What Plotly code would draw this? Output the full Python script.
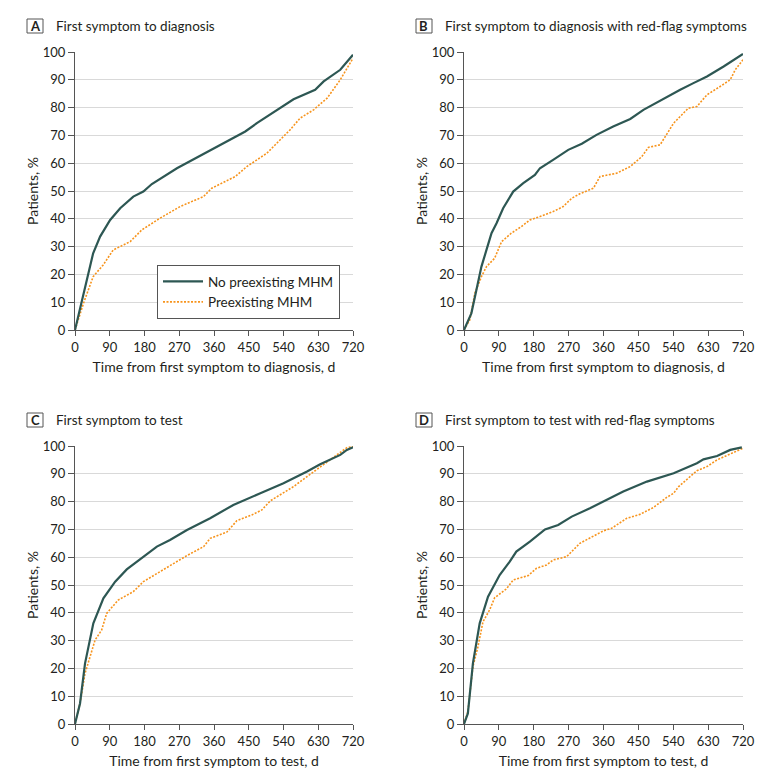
import plotly.graph_objects as go

# ---------------- data ----------------
a_no_x = [0, 35, 47, 65, 91, 117, 151, 177, 199, 264, 359, 441, 471, 532, 566, 622, 644, 687, 720]
a_no_y = [0, 20.4, 27.6, 33.6, 39.6, 43.8, 48, 49.8, 52.5, 58.2, 65.4, 71.4, 74.4, 79.8, 83, 86.4, 89.4, 93.6, 99]
a_pre_x = [0, 22, 47, 73, 99, 117, 143, 173, 220, 272, 333, 354, 415, 445, 497, 557, 583, 618, 653, 687, 720]
a_pre_y = [0, 9.6, 19.2, 23.4, 28.8, 30, 31.8, 36, 40.2, 44.4, 48, 51, 55.2, 58.8, 63.6, 72, 76.2, 79.2, 83.4, 90, 97.8]

b_no_x = [0, 10, 19, 32, 45, 58, 71, 84, 101, 127, 153, 183, 196, 230, 269, 304, 342, 385, 429, 463, 515, 558, 592, 627, 670, 696, 720]
b_no_y = [0, 3, 6, 14.4, 22.8, 28.8, 34.8, 38.4, 43.8, 49.8, 52.8, 55.8, 58.2, 61.2, 64.8, 67, 70.2, 73.2, 75.9, 79.2, 83.2, 86.4, 88.8, 91.2, 94.8, 97, 99.3]
b_pre_x = [0, 15, 28, 45, 58, 79, 97, 122, 148, 170, 196, 230, 256, 278, 299, 334, 351, 394, 429, 459, 476, 506, 541, 579, 601, 627, 661, 687, 700, 720]
b_pre_y = [0, 3.6, 13.2, 19.2, 22.8, 25.8, 31.8, 34.8, 37.2, 39.6, 40.8, 42.6, 44.4, 47.4, 49, 51, 55.2, 56.4, 58.8, 62.4, 65.7, 66.6, 74.4, 79.8, 80.4, 84.6, 87.6, 90, 93.6, 97.2]

c_no_x = [0, 13, 26, 47.5, 73.5, 104, 134, 177, 212, 246, 290, 350, 410, 480, 540, 601, 635, 687, 704, 720]
c_no_y = [0, 7.4, 21.8, 36.2, 45.2, 51.2, 55.6, 60.2, 63.8, 66.2, 69.8, 74, 78.8, 83, 86.6, 90.8, 93.4, 96.8, 98.6, 99.5]
c_pre_x = [0, 13, 26, 52, 69, 82, 112, 151, 177, 220, 255, 290, 333, 350, 393, 419, 458, 484, 506, 566, 601, 644, 678, 704, 720]
c_pre_y = [0, 7.4, 18.2, 30.2, 33.8, 39.8, 44.6, 47.6, 51.2, 54.8, 57.6, 60.6, 63.8, 66.8, 69, 73.1, 75.2, 77, 80.3, 85.4, 89, 93.2, 96.8, 99.4, 99.8]

d_no_x = [0, 10, 23, 40.5, 62, 92, 118, 135, 170, 209, 243, 278, 325, 368, 411, 472, 541, 601, 618, 653, 687, 717]
d_no_y = [0, 3.8, 21.8, 36.2, 45.8, 53.6, 58.4, 62, 65.6, 70, 71.6, 74.6, 77.6, 80.6, 83.6, 87.2, 90.2, 93.8, 95.2, 96.4, 98.6, 99.5]
d_pre_x = [0, 10, 23, 36, 49, 66, 79, 109.5, 127, 166, 187, 213, 230, 265, 299, 342, 360, 381, 420, 454, 489, 523, 541, 554, 579, 601, 627, 653, 720]
d_pre_y = [0, 4.4, 20.6, 27.8, 36.8, 41, 45.4, 48.6, 51.8, 53.4, 56, 57.2, 59, 60.2, 65, 68, 69.5, 70.4, 74, 75.4, 77.9, 81.5, 83, 85.4, 88.4, 91.1, 92.6, 95, 99.2]

panel_letters = ["A", "B", "C", "D"]
panel_titles = ["First symptom to diagnosis",
                "First symptom to diagnosis with red-flag symptoms",
                "First symptom to test",
                "First symptom to test with red-flag symptoms"]
x_titles = ["Time from first symptom to diagnosis, d",
            "Time from first symptom to diagnosis, d",
            "Time from first symptom to test, d",
            "Time from first symptom to test, d"]
series_names = ["No preexisting MHM", "Preexisting MHM"]
x_ticks = [0, 90, 180, 270, 360, 450, 540, 630, 720]
y_ticks = [0, 10, 20, 30, 40, 50, 60, 70, 80, 90, 100]

panels = [(a_no_x, a_no_y, a_pre_x, a_pre_y),
          (b_no_x, b_no_y, b_pre_x, b_pre_y),
          (c_no_x, c_no_y, c_pre_x, c_pre_y),
          (d_no_x, d_no_y, d_pre_x, d_pre_y)]

# ---------------- layout ----------------
W, H = 780, 782
FONT = "Lato"
TEAL = "#2D5753"
ORANGE = "#F7941D"
TXT = "#231f20"
DOT = "2px,1.5px"

# pixel plot areas: (left, right, top, bottom)
areas = [(75, 353, 52, 330), (464, 743, 52, 330), (75, 353, 446, 724), (464, 743, 446, 724)]

fig = go.Figure()
layout = dict(
    width=W, height=H,
    margin=dict(l=0, r=0, t=0, b=0, autoexpand=False),
    paper_bgcolor="white", plot_bgcolor="white",
    font=dict(family=FONT, size=13, color=TXT),
    showlegend=True,
    legend=dict(x=157 / W, y=1 - 265 / H, xanchor="left", yanchor="top",
                bordercolor="#555555", borderwidth=1, bgcolor="white",
                font=dict(family=FONT, size=13.5, color=TXT),
                tracegroupgap=0, itemwidth=40),
    annotations=[], shapes=[],
)

for i, (nx, ny, px, py) in enumerate(panels):
    l, r, t, b = areas[i]
    suffix = "" if i == 0 else str(i + 1)
    xa = "x" + suffix
    ya = "y" + suffix
    layout["xaxis" + suffix] = dict(
        domain=[l / W, r / W], range=[0, 720], anchor=ya, automargin=False,
        tickvals=x_ticks, ticks="outside", ticklen=5, tickcolor="#555555",
        showline=True, linecolor="#555555", linewidth=1, showgrid=False, zeroline=False,
        tickfont=dict(family=FONT, size=13, color=TXT),
        title=dict(text=x_titles[i], font=dict(family=FONT, size=14, color=TXT), standoff=8),
        fixedrange=True,
    )
    layout["yaxis" + suffix] = dict(
        domain=[1 - b / H, 1 - t / H], range=[0, 100], anchor=xa, automargin=False,
        tickvals=y_ticks, ticks="outside", ticklen=6, tickcolor="#555555",
        showline=True, linecolor="#555555", linewidth=1,
        showgrid=True, gridcolor="#d9d9d9", gridwidth=1, zeroline=False,
        tickfont=dict(family=FONT, size=13, color=TXT),
        title=dict(text="Patients, %", font=dict(family=FONT, size=14, color=TXT), standoff=0),
        fixedrange=True,
    )
    fig.add_trace(go.Scatter(x=px, y=py, mode="lines", name=series_names[1],
                             line=dict(color=ORANGE, width=1.6, dash=DOT),
                             xaxis=xa, yaxis=ya, showlegend=False, legendrank=2))
    fig.add_trace(go.Scatter(x=nx, y=ny, mode="lines", name=series_names[0],
                             line=dict(color=TEAL, width=2.2),
                             xaxis=xa, yaxis=ya, showlegend=(i == 0), legendrank=1))
    if i == 0:
        fig.add_trace(go.Scatter(x=[None], y=[None], mode="lines", name=series_names[1],
                                 line=dict(color=ORANGE, width=1.6, dash=DOT),
                                 xaxis=xa, yaxis=ya, showlegend=True, legendrank=2))
    # panel letter box and title
    bx0 = l - 48
    by = t - 26
    layout["shapes"].append(dict(type="rect", xref="paper", yref="paper",
                                 x0=bx0 / W, x1=(bx0 + 16) / W,
                                 y0=1 - (by + 7) / H, y1=1 - (by - 7) / H,
                                 line=dict(color="#555555", width=1), fillcolor="white"))
    layout["annotations"].append(dict(text="<b>" + panel_letters[i] + "</b>", xref="paper", yref="paper",
                                      x=(bx0 + 8) / W, y=1 - by / H, xanchor="center", yanchor="middle",
                                      showarrow=False, font=dict(family=FONT, size=13, color=TXT)))
    layout["annotations"].append(dict(text=panel_titles[i], xref="paper", yref="paper",
                                      x=(bx0 + 27) / W, y=1 - by / H, xanchor="left", yanchor="middle",
                                      showarrow=False, font=dict(family=FONT, size=13.5, color=TXT)))

fig.update_layout(**layout)
fig.write_html("out.html", config={"displayModeBar": False},
               post_script="document.body.style.margin='0px';document.body.style.overflow='hidden';")
